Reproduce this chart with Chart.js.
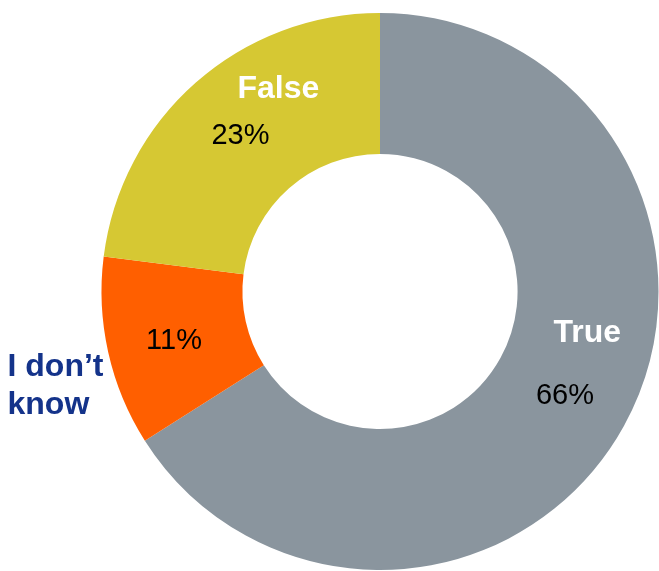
<!DOCTYPE html>
<html>
<head>
    <title>True or False</title>
    <script src="https://cdn.jsdelivr.net/npm/chart.js"></script>
    <style>
        html, body { margin: 0; padding: 0; background: #fff; }
        canvas { display: block; }
    </style>
</head>
<body>
    <canvas id="answerChart" width="659" height="571"></canvas>

    <script>
        // answers, clockwise from 12 o'clock
        const answers = ['True', 'I don\u2019t know', 'False'];
        const shares = [66, 11, 23];
        const colors = ['#8a959e', '#ff5f00', '#d6c833'];

        const font = '"Liberation Sans", Arial, sans-serif';

        // point on the ring, angle in degrees clockwise from top
        function polar(arc, deg, r) {
            const a = deg * Math.PI / 180;
            return { x: arc.x + r * Math.sin(a), y: arc.y - r * Math.cos(a) };
        }

        const sliceLabels = {
            id: 'sliceLabels',
            afterDatasetsDraw(chart) {
                const ctx = chart.ctx;
                const arcs = chart.getDatasetMeta(0).data;
                ctx.save();
                arcs.forEach((arc, i) => {
                    const p = arc.getProps(['x', 'y', 'startAngle', 'endAngle', 'innerRadius', 'outerRadius'], true);
                    const mid = ((p.startAngle + p.endAngle) / 2) * 180 / Math.PI + 90;
                    const ring = (p.innerRadius + p.outerRadius) / 2 + 3;

                    // percentage on the slice midline
                    const pt = polar(p, mid, ring);
                    ctx.font = '29px ' + font;
                    ctx.fillStyle = '#000';
                    ctx.textAlign = 'center';
                    ctx.textBaseline = 'alphabetic';
                    ctx.fillText(shares[i] + '%', pt.x, pt.y + 11);

                    // answer name
                    ctx.font = 'bold 32px ' + font;
                    if (i === 0) {
                        const n = polar(p, mid - 18, ring);
                        ctx.fillStyle = '#fff';
                        ctx.fillText(answers[i], n.x, n.y + 11);
                    } else if (i === 2) {
                        const n = polar(p, mid + 15, p.outerRadius - 50);
                        ctx.fillStyle = '#fff';
                        ctx.fillText(answers[i], n.x, n.y + 11);
                    } else {
                        // outside, to the left of the ring
                        const words = answers[i].split(' ');
                        const lines = [words[0] + ' ' + words[1], words[2]];
                        ctx.fillStyle = '#14338a';
                        ctx.textAlign = 'left';
                        const x = p.x - p.outerRadius - 94;
                        lines.forEach((line, k) => {
                            ctx.fillText(line, x, p.y + 84 + k * 38);
                        });
                    }
                });
                ctx.restore();
            }
        };

        const ctx = document.getElementById('answerChart').getContext('2d');
        new Chart(ctx, {
            type: 'doughnut',
            data: {
                labels: answers,
                datasets: [{
                    data: shares,
                    backgroundColor: colors,
                    borderWidth: 0
                }]
            },
            options: {
                responsive: false,
                animation: false,
                cutout: '49.4%',
                layout: {
                    padding: { left: 101.5, right: 0.5, top: 13, bottom: 1 }
                },
                plugins: {
                    legend: { display: false },
                    tooltip: { enabled: false }
                }
            },
            plugins: [sliceLabels]
        });
    </script>
</body>
</html>
